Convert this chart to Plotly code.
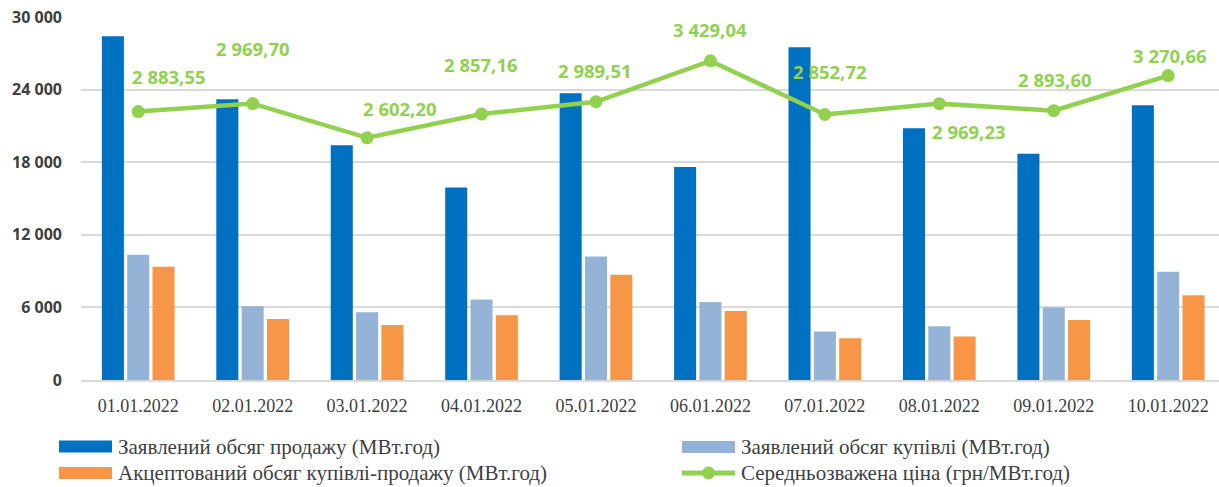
import plotly.graph_objects as go

dates = ["01.01.2022", "02.01.2022", "03.01.2022", "04.01.2022", "05.01.2022",
         "06.01.2022", "07.01.2022", "08.01.2022", "09.01.2022", "10.01.2022"]
sale_declared = [28400, 23200, 19400, 15900, 23700, 17600, 27500, 20800, 18700, 22700]
buy_declared = [10350, 6100, 5600, 6650, 10200, 6450, 4000, 4450, 6000, 8950]
accepted = [9350, 5050, 4550, 5350, 8700, 5700, 3450, 3600, 4950, 7000]
price = [2883.55, 2969.70, 2602.20, 2857.16, 2989.51, 3429.04, 2852.72, 2969.23, 2893.60, 3270.66]

y_ticks = [0, 6000, 12000, 18000, 24000, 30000]

names = ["Заявлений обсяг продажу (МВт.год)",
         "Заявлений обсяг купівлі (МВт.год)",
         "Акцептований обсяг купівлі-продажу (МВт.год)",
         "Середньозважена ціна (грн/МВт.год)"]

C_BLUE = "#0070C0"
C_LBLUE = "#95B3D7"
C_ORANGE = "#F79646"
C_GREEN = "#92D050"
C_TEXT = "#404040"
C_GRID = "#D9D9D9"
SERIF = "Liberation Serif, Times New Roman, serif"

W, H = 1219, 487
ML, MR, MT, MB = 81, 0, 17, 107
PW = W - ML - MR
PH = H - MT - MB


def px(x):
    return (x - ML) / PW


def py(y):
    return (H - MB - y) / PH


def fmt(v):
    return f"{v:,.2f}".replace(",", " ").replace(".", ",")


fig = go.Figure()
fig.add_trace(go.Bar(x=dates, y=sale_declared, name=names[0], marker_color=C_BLUE,
                     marker_line_width=0, showlegend=False))
fig.add_trace(go.Bar(x=dates, y=buy_declared, name=names[1], marker_color=C_LBLUE,
                     marker_line_width=0, showlegend=False))
fig.add_trace(go.Bar(x=dates, y=accepted, name=names[2], marker_color=C_ORANGE,
                     marker_line_width=0, showlegend=False))
fig.add_trace(go.Scatter(x=dates, y=price, name=names[3], yaxis="y2", mode="lines+markers",
                         line=dict(color=C_GREEN, width=4.5),
                         marker=dict(color=C_GREEN, size=13), showlegend=False))

# data label offsets (pixels): (xshift, yshift)
offsets = [(31, 35), (0, 55), (33, 29), (-1, 50), (-1, 31),
           (0, 31), (5, 43), (30, -28), (1, 31), (2, 20)]
for d, p, (dx, dy) in zip(dates, price, offsets):
    fig.add_annotation(x=d, y=p, xref="x", yref="y2", text=fmt(p), showarrow=False,
                       xshift=dx, yshift=dy,
                       font=dict(family="Open Sans", size=18.5, color=C_GREEN, weight="bold"))

# manual legend
shapes = []
leg = [
    (59, 446.5, C_BLUE, "bar", names[0]),
    (59, 473, C_ORANGE, "bar", names[2]),
    (682, 447, C_LBLUE, "bar", names[1]),
    (682, 473, C_GREEN, "line", names[3]),
]
for x0, yc, col, kind, label in leg:
    if kind == "bar":
        shapes.append(dict(type="rect", xref="paper", yref="paper",
                           x0=px(x0), x1=px(x0 + 53), y0=py(yc - 6), y1=py(yc + 6),
                           fillcolor=col, line_width=0))
    else:
        shapes.append(dict(type="line", xref="paper", yref="paper",
                           x0=px(x0), x1=px(x0 + 53), y0=py(yc), y1=py(yc),
                           line=dict(color=col, width=5)))
        shapes.append(dict(type="circle", xref="paper", yref="paper",
                           x0=px(x0 + 26.5 - 6.5), x1=px(x0 + 26.5 + 6.5),
                           y0=py(yc + 6.5), y1=py(yc - 6.5),
                           fillcolor=col, line_width=0))
    fig.add_annotation(x=px(x0 + 57), y=py(yc), xref="paper", yref="paper",
                       xanchor="left", yanchor="middle", text=label, showarrow=False,
                       font=dict(family=SERIF, size=21, color=C_TEXT))

fig.update_layout(
    width=W, height=H,
    margin=dict(l=ML, r=MR, t=MT, b=MB, pad=0),
    paper_bgcolor="white", plot_bgcolor="white",
    barmode="group", bargap=0.336, bargroupgap=0.13,
    separators=", ",
    shapes=shapes,
    xaxis=dict(type="category", range=[-0.5, 9.444], showgrid=False,
               showline=True, linecolor=C_GRID, linewidth=2,
               tickfont=dict(family=SERIF, size=18, color=C_TEXT),
               ticks="", ticklabelstandoff=8),
    yaxis=dict(range=[0, 30000], tickvals=y_ticks, tickformat=",d",
               showgrid=True, gridcolor=C_GRID, gridwidth=1.5,
               zeroline=False, showline=False,
               tickfont=dict(family="Open Sans", size=16, color=C_TEXT, weight="bold"),
               ticklabelstandoff=18),
    yaxis2=dict(range=[0, 3900], overlaying="y", side="right", visible=False,
                showgrid=False),
)

fig.write_html("out.html", config={"displayModeBar": False},
               post_script="document.body.style.margin='0';document.body.style.overflow='hidden';")
